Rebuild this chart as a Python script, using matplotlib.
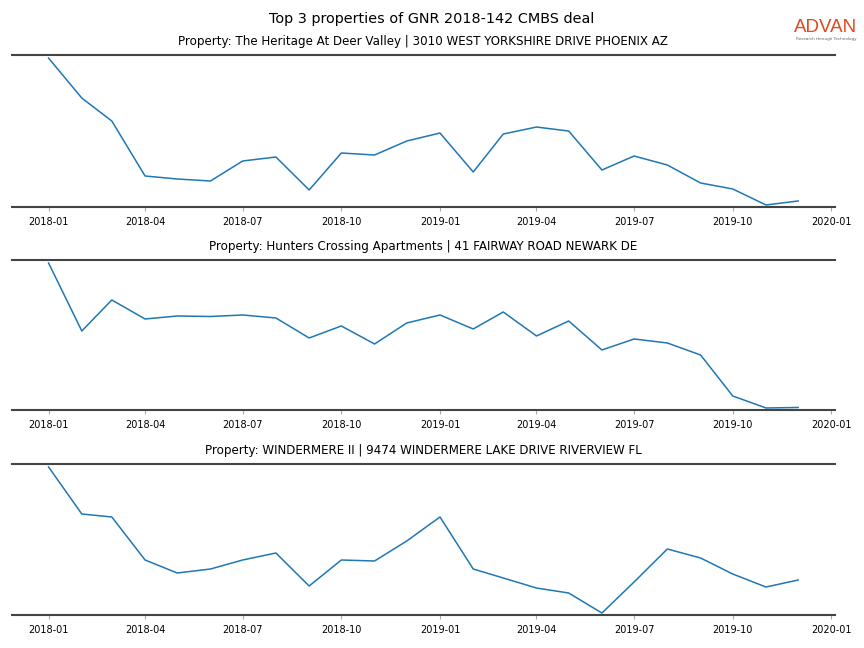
import numpy as np
import pandas as pd
import matplotlib
matplotlib.use("Agg")
import matplotlib.pyplot as plt
import matplotlib.dates as mdates

# monthly series, 2018-01 .. 2019-12 (relative scale)
months = pd.date_range("2018-01-01", "2019-12-01", freq="MS")

heritage = [149, 109, 86, 31, 28, 26, 46, 50, 17, 54, 52, 66,
            74, 35, 73, 80, 76, 37, 51, 42, 24, 18, 2, 6]
hunters = [147, 79, 110, 91, 94, 93.5, 95, 92, 72, 84, 66, 87,
           95, 81, 98, 74, 89, 60, 71, 67, 55, 14, 2, 2.5]
windermere = [148, 101, 98, 55, 42, 46, 55, 62, 29, 55, 54, 74,
              98, 46, 37, 27, 22, 2, 33, 66, 57, 41, 28, 35]

titles = [
    "Property: The Heritage At Deer Valley | 3010 WEST YORKSHIRE DRIVE PHOENIX AZ",
    "Property: Hunters Crossing Apartments | 41 FAIRWAY ROAD NEWARK DE",
    "Property: WINDERMERE II | 9474 WINDERMERE LAKE DRIVE RIVERVIEW FL",
]
series = [heritage, hunters, windermere]
ylims = [(0, 152), (0, 150), (0, 151)]

fig = plt.figure(figsize=(8.64, 6.48), dpi=100)
fig.suptitle("Top 3 properties of GNR 2018-142 CMBS deal", fontsize=10.4, y=0.981)

# axes boxes in figure fractions: [left, bottom, width, height]
boxes = [
    [0.014, 0.6806, 0.952, 0.2344],
    [0.014, 0.3673, 0.952, 0.2315],
    [0.014, 0.0509, 0.952, 0.2331],
]

for box, vals, title, yl in zip(boxes, series, titles, ylims):
    ax = fig.add_axes(box)
    ax.plot(months, vals, color="#1f77b4", linewidth=1.1)
    ax.set_title(title, fontsize=8.6, pad=7.5)
    ax.set_xlim(pd.Timestamp("2017-11-28"), pd.Timestamp("2020-01-04"))
    ax.set_ylim(*yl)
    ax.xaxis.set_major_locator(mdates.MonthLocator(bymonth=[1, 4, 7, 10]))
    ax.xaxis.set_major_formatter(mdates.DateFormatter("%Y-%m"))
    ax.set_yticks([])
    for s in ["left", "right"]:
        ax.spines[s].set_visible(False)
    for s in ["top", "bottom"]:
        ax.spines[s].set_color("#444444")
        ax.spines[s].set_linewidth(1.5)
    ax.tick_params(axis="x", labelsize=7, length=3, width=0.8, color="#aaaaaa", pad=4)

# logo
fig.text(0.992, 0.945, "ADVAN", color="#e2471d", fontsize=13.5, ha="right",
         va="bottom", family="Liberation Sans")
fig.text(0.991, 0.936, "Research through Technology", color="#666666",
         fontsize=3, ha="right", va="bottom")

fig.savefig("out.png", dpi=100)
